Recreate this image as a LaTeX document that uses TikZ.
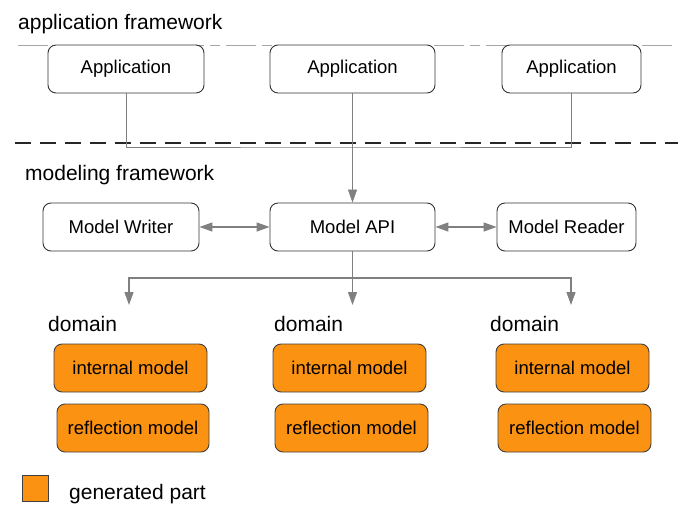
\documentclass[tikz,border=0pt]{standalone}
\usepackage{fontspec}
\setmainfont{Liberation Sans}
\usetikzlibrary{positioning, arrows.meta, calc}
\definecolor{genorange}{RGB}{252,146,18}
\definecolor{linegray}{RGB}{128,128,128}

\begin{document}
\begin{tikzpicture}[
        x=1pt, y=-1pt,
        box/.style={rectangle, draw=black!80, line width=0.9pt, rounded corners=8pt, fill=white, minimum height=48pt, inner sep=0pt, font=\fontsize{18.5}{22}\selectfont},
        gen/.style={box, fill=genorange, draw=black!75},
        head/.style={anchor=base west, inner sep=0pt, font=\fontsize{21}{25}\selectfont},
        arrow/.style={-{Triangle[length=13pt, width=9pt]}, linegray, line width=1.3pt},
        link/.style={linegray, line width=0.8pt}
    ]
        \useasboundingbox (0,0) rectangle (678,504);

        % Layer separators
        \draw [black!35, line width=1pt, dash pattern=on 30pt off 6pt on 10pt off 6pt] (18,45) -- (678,45);
        \draw [black!85, line width=1.3pt, dash pattern=on 16pt off 9pt] (15,143) -- (678,143);

        % Headings
        \node (apphead) [head] at (18,29) {application framework};
        \node (modhead) [head] at (25,180) {modeling framework};

        % Applications
        \node (app1) [box, minimum width=156pt] at (126,69) {Application};
        \node (app2) [box, minimum width=165pt] at (352.5,69) {Application};
        \node (app3) [box, minimum width=139pt] at (571.5,69) {Application};

        % Modeling framework
        \node (writer) [box, minimum width=156pt] at (121,227) {Model Writer};
        \node (api) [box, minimum width=165pt] at (352.5,227) {Model API};
        \node (reader) [box, minimum width=139pt] at (566.5,227) {Model Reader};

        % Domains
        \node (dom1) [head] at (48,331) {domain};
        \node (dom2) [head] at (274,331) {domain};
        \node (dom3) [head] at (490,331) {domain};
        \node (int1) [gen, minimum width=153pt] at (130.5,368) {internal model};
        \node (int2) [gen, minimum width=153pt] at (349.5,368) {internal model};
        \node (int3) [gen, minimum width=153pt] at (572.5,368) {internal model};
        \node (ref1) [gen, minimum width=152pt] at (133,428) {reflection model};
        \node (ref2) [gen, minimum width=153pt] at (351.5,428) {reflection model};
        \node (ref3) [gen, minimum width=153pt] at (574.5,428) {reflection model};

        % Legend
        \node (legbox) [rectangle, draw=black!75, line width=0.9pt, fill=genorange, minimum size=26pt, inner sep=0pt] at (35,488) {};
        \node (legtext) [head] at (69,499) {generated part};

        % Connectors
        \coordinate (bus) at (352.5,147);
        \draw [link] (app1.south) |- (bus) -| (app3.south);
        \draw [link, -{Triangle[length=13pt, width=9pt]}] (app2.south) -- (api.north);
        \draw [arrow, {Triangle[length=13pt, width=9pt]}-{Triangle[length=13pt, width=9pt]}] (writer) -- (api);
        \draw [arrow, {Triangle[length=13pt, width=9pt]}-{Triangle[length=13pt, width=9pt]}] (api) -- (reader);

        \coordinate (fork) at (352.5,278);
        \coordinate (tip1) at (129,305);
        \coordinate (tip2) at (352.5,305);
        \coordinate (tip3) at (571,305);
        \draw [linegray, line width=1.3pt] (api.south) -- (fork);
        \draw [arrow] (fork) -| (tip1);
        \draw [arrow] (fork) -- (tip2);
        \draw [arrow] (fork) -| (tip3);
    \end{tikzpicture}
\end{document}
